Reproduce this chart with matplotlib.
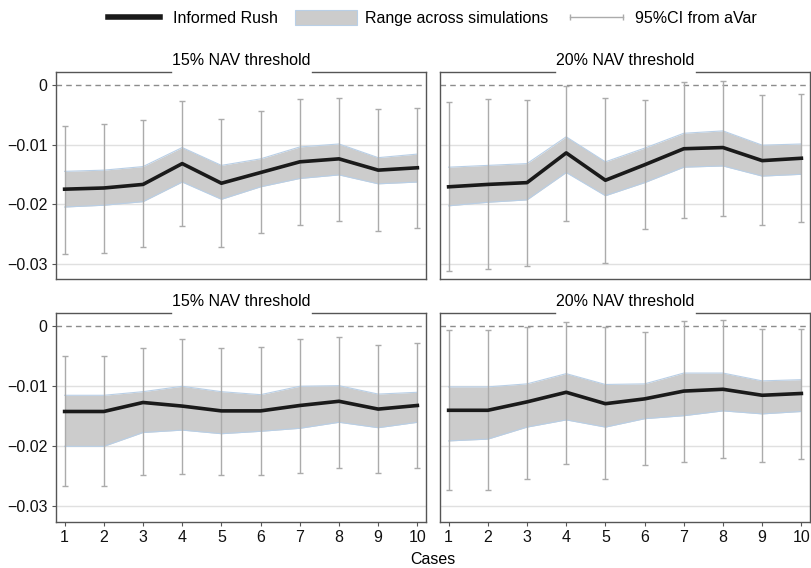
import numpy as np
import matplotlib
matplotlib.use("Agg")
import matplotlib.pyplot as plt
from matplotlib.lines import Line2D
from matplotlib.patches import Patch

plt.rcParams["font.family"] = ["Liberation Sans", "DejaVu Sans"]
plt.rcParams["font.size"] = 11.5

cases = np.arange(1, 11)

# informed rush, simulation range (lo/hi) and 95% CI (lo/hi) per panel
rush_15_top = [-0.0175, -0.0173, -0.0167, -0.0132, -0.0165, -0.0147, -0.0129, -0.0124, -0.0143, -0.0139]
band_hi_15_top = [-0.0145, -0.0143, -0.0137, -0.0105, -0.0135, -0.0124, -0.0104, -0.0099, -0.0122, -0.0116]
band_lo_15_top = [-0.0205, -0.0202, -0.0196, -0.0163, -0.0192, -0.0171, -0.0157, -0.0151, -0.0166, -0.0163]
ci_hi_15_top = [-0.0068, -0.0066, -0.0059, -0.0026, -0.0057, -0.0044, -0.0024, -0.0021, -0.0040, -0.0038]
ci_lo_15_top = [-0.0284, -0.0282, -0.0273, -0.0237, -0.0272, -0.0248, -0.0235, -0.0229, -0.0246, -0.0240]

rush_20_top = [-0.0171, -0.0167, -0.0164, -0.0114, -0.0160, -0.0134, -0.0107, -0.0105, -0.0127, -0.0123]
band_hi_20_top = [-0.0138, -0.0135, -0.0132, -0.0087, -0.0129, -0.0106, -0.0081, -0.0077, -0.0101, -0.0099]
band_lo_20_top = [-0.0203, -0.0197, -0.0193, -0.0147, -0.0186, -0.0164, -0.0138, -0.0136, -0.0153, -0.0150]
ci_hi_20_top = [-0.0029, -0.0024, -0.0025, -0.0001, -0.0021, -0.0025, 0.0006, 0.0007, -0.0016, -0.0015]
ci_lo_20_top = [-0.0313, -0.0309, -0.0304, -0.0229, -0.0299, -0.0242, -0.0224, -0.0220, -0.0235, -0.0230]

rush_15_bot = [-0.0142, -0.0142, -0.0127, -0.0133, -0.0141, -0.0141, -0.0132, -0.0125, -0.0138, -0.0132]
band_hi_15_bot = [-0.0115, -0.0115, -0.0109, -0.0100, -0.0109, -0.0114, -0.0100, -0.0099, -0.0113, -0.0110]
band_lo_15_bot = [-0.0200, -0.0200, -0.0177, -0.0173, -0.0179, -0.0175, -0.0170, -0.0160, -0.0169, -0.0160]
ci_hi_15_bot = [-0.0049, -0.0049, -0.0036, -0.0022, -0.0036, -0.0035, -0.0022, -0.0018, -0.0032, -0.0028]
ci_lo_15_bot = [-0.0266, -0.0266, -0.0248, -0.0246, -0.0248, -0.0247, -0.0244, -0.0236, -0.0244, -0.0236]

rush_20_bot = [-0.0140, -0.0140, -0.0126, -0.0110, -0.0129, -0.0121, -0.0108, -0.0105, -0.0115, -0.0112]
band_hi_20_bot = [-0.0101, -0.0101, -0.0096, -0.0079, -0.0097, -0.0096, -0.0078, -0.0078, -0.0091, -0.0089]
band_lo_20_bot = [-0.0191, -0.0188, -0.0168, -0.0156, -0.0168, -0.0154, -0.0149, -0.0141, -0.0146, -0.0142]
ci_hi_20_bot = [-0.0007, -0.0007, -0.0001, 0.0007, -0.0001, -0.0010, 0.0009, 0.0011, -0.0005, -0.0004]
ci_lo_20_bot = [-0.0272, -0.0272, -0.0254, -0.0229, -0.0254, -0.0231, -0.0226, -0.0220, -0.0226, -0.0221]

panels = [
    ("15% NAV threshold", rush_15_top, band_lo_15_top, band_hi_15_top, ci_lo_15_top, ci_hi_15_top),
    ("20% NAV threshold", rush_20_top, band_lo_20_top, band_hi_20_top, ci_lo_20_top, ci_hi_20_top),
    ("15% NAV threshold", rush_15_bot, band_lo_15_bot, band_hi_15_bot, ci_lo_15_bot, ci_hi_15_bot),
    ("20% NAV threshold", rush_20_bot, band_lo_20_bot, band_hi_20_bot, ci_lo_20_bot, ci_hi_20_bot),
]

W, H = 811, 568
fig = plt.figure(figsize=(W / 100, H / 100), dpi=100)

# axes boxes in pixels: left, top, right, bottom
boxes = [(56, 72, 426, 279), (440, 72, 810, 279),
         (56, 313, 426, 522), (440, 313, 810, 522)]

frame_col = "#555555"
band_col = "#cccccc"
band_edge = "#b9cfe6"
ci_col = "#ababab"

for i, (box, (title, rush, blo, bhi, clo, chi)) in enumerate(zip(boxes, panels)):
    l, t, r, b = box
    ax = fig.add_axes([l / W, 1 - b / H, (r - l) / W, (b - t) / H])
    ax.set_xlim(0.78, 10.22)
    ax.set_ylim(-0.0326, 0.0022)

    for yv in [-0.01, -0.02, -0.03]:
        ax.axhline(yv, color="#e0e0e0", lw=1.0, zorder=0)
    ax.axhline(0, color="#8c8c8c", lw=1.0, ls=(0, (4, 3)), zorder=1)

    ax.fill_between(cases, blo, bhi, color=band_col, lw=0, zorder=2)
    ax.plot(cases, bhi, color=band_edge, lw=0.8, zorder=2)
    ax.plot(cases, blo, color=band_edge, lw=0.8, zorder=2)

    rush = np.array(rush)
    ax.errorbar(cases, rush, yerr=[rush - np.array(clo), np.array(chi) - rush],
                fmt="none", ecolor=ci_col, elinewidth=1.0, capsize=2.2,
                capthick=1.0, zorder=3)
    ax.plot(cases, rush, color="#1a1a1a", lw=2.6, zorder=4)

    for side in ["left", "right", "bottom"]:
        ax.spines[side].set_color(frame_col)
        ax.spines[side].set_linewidth(1.0)
    ax.spines["top"].set_visible(False)
    # broken top border around the strip title
    for x0, x1 in [(0, 0.31), (0.691, 1)]:
        ax.add_line(Line2D([x0, x1], [1, 1], transform=ax.transAxes,
                           color=frame_col, lw=1.0, clip_on=False))
    ax.text(0.5, 1.02, title, transform=ax.transAxes, ha="center", va="bottom")

    ax.set_xticks(cases)
    ax.set_yticks([0, -0.01, -0.02, -0.03])
    ax.set_yticklabels(["0", "\u22120.01", "\u22120.02", "\u22120.03"])
    ax.tick_params(colors=frame_col, labelcolor="#111111", labelsize=11.5,
                   length=3, width=0.8, pad=3)
    if i % 2 == 1:
        ax.tick_params(axis="y", left=False, labelleft=False)
    if i < 2:
        ax.tick_params(axis="x", bottom=False, labelbottom=False)

fig.text(433 / W, 1 - 559 / H, "Cases", ha="center", va="center")

handles = [
    Line2D([], [], color="#1a1a1a", lw=4.0),
    Patch(facecolor=band_col, edgecolor=band_edge, lw=0.8),
    Line2D([], [], color=ci_col, lw=1.0, marker="|", markersize=4.5, markeredgewidth=1.0),
]
labels = ["Informed Rush", "Range across simulations", "95%CI from aVar"]
fig.legend(handles, labels, loc="center", bbox_to_anchor=(430 / W, 1 - 18 / H), ncol=3,
           frameon=False, numpoints=2, handlelength=3.9, handleheight=1.06,
           handletextpad=0.5, columnspacing=1.05, borderpad=0)

fig.savefig("out.png", dpi=100)
